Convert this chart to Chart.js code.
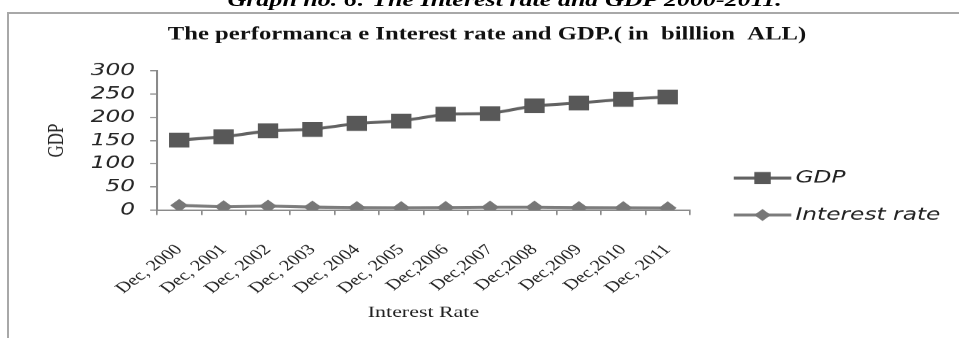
<!DOCTYPE html>
<html><head><meta charset="utf-8">
<script src="https://cdn.jsdelivr.net/npm/chart.js@4.4.1/dist/chart.umd.min.js"></script>
<style>
html,body{margin:0;padding:0;background:#fff;overflow:hidden;width:959px;height:338px;}
#frame{position:absolute;left:7px;top:12px;width:1000px;height:400px;border-left:2px solid #a8a8a8;border-top:2px solid #a8a8a8;}
#stretch{position:absolute;left:0;top:0;width:700px;height:338px;transform:scaleX(1.37);transform-origin:0 0;}
#caption{position:absolute;left:166px;top:-11px;font:bold italic 19px "Liberation Serif";line-height:21px;white-space:nowrap;color:#000;}
#wrap{position:absolute;left:0;top:0;width:700px;height:338px;}
</style></head>
<body>
<div id="frame"></div>
<div id="stretch">
  <div id="caption">Graph no. 6: The Interest rate and GDP 2000-2011.</div>
  <div id="wrap"><canvas id="c"></canvas></div>
</div>
<script>
// ---- data ----
const categories = ['Dec, 2000','Dec, 2001','Dec, 2002','Dec, 2003','Dec, 2004','Dec, 2005','Dec,2006','Dec,2007','Dec,2008','Dec,2009','Dec,2010','Dec, 2011'];
const gdpValues = [151, 158, 171, 174, 187, 192, 207, 208, 225, 231, 239, 244];
const interestValues = [10, 7, 8.5, 6.5, 5.25, 5, 5.5, 6.25, 6.25, 5.25, 5, 4.75];
const yTickMin = 0, yTickMax = 300, yTickStep = 50;
const seriesNames = ['GDP', 'Interest rate'];
const chartTitle = 'The performanca e Interest rate and GDP.( in  billlion  ALL)';
const xAxisTitle = 'Interest Rate';
const yAxisTitle = 'GDP';

const legendMarkers = {
  GDP: {style:'rect', half:6},
  'Interest rate': {style:'diamond', half:6}
};

const sideLegend = {
  id:'sideLegend',
  afterDraw(chart){
    const {ctx, chartArea} = chart;
    ctx.save();
    chart.data.datasets.forEach((ds, i) => {
      const y = chartArea.top + 107 + i * 37;
      const x0 = chartArea.right + 32;
      const w = 42;
      ctx.strokeStyle = ds.borderColor;
      ctx.lineWidth = 3;
      ctx.beginPath(); ctx.moveTo(x0, y); ctx.lineTo(x0 + w, y); ctx.stroke();
      const m = legendMarkers[ds.label];
      const cx = x0 + w / 2;
      ctx.fillStyle = ds.pointBackgroundColor;
      ctx.beginPath();
      if (m.style === 'rect') {
        ctx.rect(cx - m.half, y - m.half, 2 * m.half, 2 * m.half);
      } else {
        ctx.moveTo(cx - m.half, y); ctx.lineTo(cx, y - m.half);
        ctx.lineTo(cx + m.half, y); ctx.lineTo(cx, y + m.half); ctx.closePath();
      }
      ctx.fill();
      ctx.fillStyle = '#222';
      ctx.font = 'italic 17px "DejaVu Sans"';
      ctx.textBaseline = 'middle';
      ctx.textAlign = 'left';
      ctx.fillText(ds.label, x0 + w + 3, y);
    });
    ctx.restore();
  }
};

new Chart(document.getElementById('c'), {
  type: 'line',
  data: {
    labels: categories,
    datasets: [
      {label: seriesNames[0], data: gdpValues, borderColor:'#626262', borderWidth:3,
       pointStyle:'rect', pointRadius:10.5, pointHoverRadius:10.5, pointBorderWidth:0,
       pointBackgroundColor:'#585858', backgroundColor:'#585858', tension:0},
      {label: seriesNames[1], data: interestValues, borderColor:'#7c7c7c', borderWidth:3,
       pointStyle:'rectRot', pointRadius:6.5, pointHoverRadius:6.5, pointBorderWidth:0,
       pointBackgroundColor:'#777777', backgroundColor:'#777777', tension:0}
    ]
  },
  options: {
    devicePixelRatio: 1.37,
    responsive: true,
    maintainAspectRatio: false,
    animation: false,
    events: [],
    layout: {padding: {left: 21, right: 10, top: 0, bottom: 8}},
    plugins: {
      legend: {display: false},
      tooltip: {enabled: false},
      title: {display: true, text: chartTitle, color:'#111',
        font: {family:'Liberation Serif', size:18, weight:'bold'},
        padding: {top: 24, bottom: 25.4}}
    },
    scales: {
      x: {
        offset: true,
        grid: {offset: true, drawOnChartArea: false, tickLength: 5, color:'#8a8a8a', lineWidth:1.2},
        border: {color:'#8a8a8a', width:1.5},
        ticks: {autoSkip:false, maxRotation:45, minRotation:45, padding:26, color:'#222',
          font: {family:'Liberation Serif', size:15}},
        title: {display:true, text:xAxisTitle, color:'#222',
          font: {family:'Liberation Serif', size:16}, padding:{top:7, bottom:8}},
        afterFit(scale){ scale.height = 120; }
      },
      y: {
        min: yTickMin, max: yTickMax,
        grid: {drawOnChartArea:false, tickLength:5, color:'#8a8a8a', lineWidth:1.2},
        border: {color:'#8a8a8a', width:1.5},
        ticks: {stepSize: yTickStep, autoSkip:false, padding:11, color:'#262626',
          font: {family:'DejaVu Sans', size:17, style:'italic'}},
        title: {display:true, text:yAxisTitle, color:'#222',
          font: {family:'Liberation Serif', size:17}, padding:{top:10, bottom:10}},
        afterFit(scale){ scale.width = 93.6; }
      },
      legendSpace: {
        type: 'linear', position: 'right', display: true,
        grid: {display:false}, border: {display:false}, ticks: {display:false},
        afterFit(scale){ scale.width = 186.4; }
      }
    }
  },
  plugins: [sideLegend]
});
</script>
</body></html>
